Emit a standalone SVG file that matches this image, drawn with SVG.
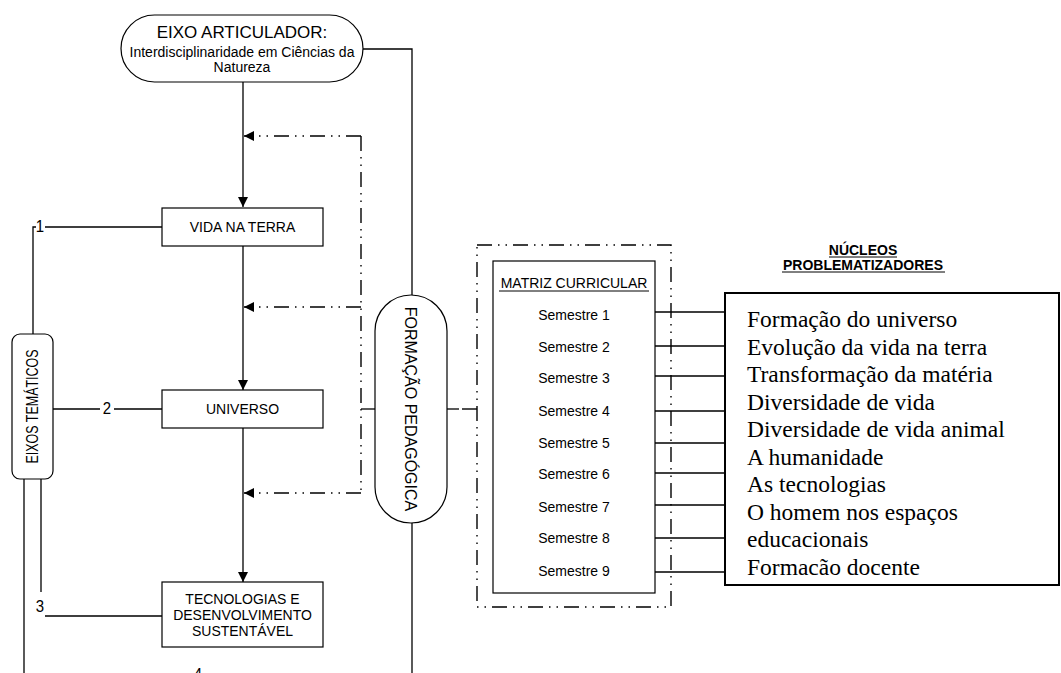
<svg xmlns="http://www.w3.org/2000/svg" width="1061" height="673" viewBox="0 0 1061 673">
<style>
.ln{fill:none;stroke:#000;stroke-width:1.3}
.dd{fill:none;stroke:#000;stroke-width:1.4;stroke-dasharray:15 6 1.5 6 1.5 6}
.box{fill:#fff;stroke:#000;stroke-width:1.2}
.t{font-family:"Liberation Sans",Arial,sans-serif;font-size:14px;fill:#000;text-anchor:middle}
.tm{font-family:"Liberation Serif","Times New Roman",serif;font-size:23.5px;fill:#000}
</style>
<defs>
<marker id="ah" viewBox="0 0 10 10" refX="10" refY="5" markerWidth="10" markerHeight="10" markerUnits="userSpaceOnUse" orient="auto">
<path d="M0,0 L10,5 L0,10 z" fill="#000"/>
</marker>
</defs>
<rect width="1061" height="673" fill="#fff"/>
<g id="connectors">
<path class="ln" d="M363,49 H412 V295"/>
<path class="ln" d="M412,523 V673"/>
<path class="ln" d="M243,82 V207" marker-end="url(#ah)"/>
<path class="ln" d="M243,246 V390" marker-end="url(#ah)"/>
<path class="ln" d="M243,428 V582" marker-end="url(#ah)"/>
<path class="dd" d="M361,136 H244" marker-end="url(#ah)"/>
<path class="dd" d="M361,307 H244" marker-end="url(#ah)"/>
<path class="dd" d="M361,493 H244" marker-end="url(#ah)"/>
<path class="dd" d="M361,136 V493"/>
<path class="ln" d="M361,409 H375"/>
<path class="ln" d="M447,409 H459"/>
<path class="dd" d="M477,409 H462"/>
<path class="ln" d="M162,227 H45 M36,227 H33 V334"/>
<path class="ln" d="M53,409 H100 M114,409 H162"/>
<path class="ln" d="M41,479 V592 M45,616 H162"/>
<path class="ln" d="M24,479 V673"/>
<path class="ln" d="M655,312 H725 M655,346 H725 M655,376 H725 M655,411 H725 M655,443 H725 M655,473 H725 M655,505 H725 M655,538 H725 M655,572 H725"/>
<text class="t" transform="translate(40,232) scale(1,1.1)" style="font-size:15px">1</text>
<text class="t" transform="translate(107,414) scale(1,1.1)" style="font-size:15px">2</text>
<text class="t" transform="translate(40,612) scale(1,1.1)" style="font-size:15px">3</text>
<text class="t" transform="translate(198,680) scale(1,1.1)" style="font-size:15px">4</text>
</g>
<g id="eixo-articulador">
<rect class="box" x="121" y="15" width="242" height="67" rx="33.5"/>
<text class="t" x="242" y="38" style="font-size:17px">EIXO ARTICULADOR:</text>
<text class="t" x="242" y="56.5">Interdisciplinaridade em Ciências da</text>
<text class="t" x="242" y="72">Natureza</text>
</g>
<g id="vida-na-terra">
<rect class="box" x="162" y="208" width="161" height="38"/>
<text class="t" transform="translate(242.5,232) scale(1,1.08)">VIDA NA TERRA</text>
</g>
<g id="universo">
<rect class="box" x="162" y="390" width="161" height="38"/>
<text class="t" transform="translate(242.5,414) scale(1,1.08)">UNIVERSO</text>
</g>
<g id="tecnologias">
<rect class="box" x="162" y="582" width="161" height="65"/>
<text class="t" transform="translate(242.5,604) scale(1,1.08)">TECNOLOGIAS E</text>
<text class="t" transform="translate(242.5,620) scale(1,1.08)">DESENVOLVIMENTO</text>
<text class="t" transform="translate(242.5,636) scale(1,1.08)">SUSTENTÁVEL</text>
</g>
<g id="eixos-tematicos">
<rect class="box" x="12" y="334" width="41" height="145" rx="8"/>
<text class="t" transform="translate(37.5,406.5) rotate(-90) scale(1,1.25)" style="font-size:12.5px">EIXOS TEMÁTICOS</text>
</g>
<g id="formacao-pedagogica">
<rect class="box" x="375" y="295" width="72" height="228" rx="36"/>
<text class="t" transform="translate(405,409) rotate(90)" style="font-size:16px">FORMAÇÃO PEDAGÓGICA</text>
</g>
<g id="matriz-curricular">
<rect class="dd" x="477" y="245" width="194" height="362"/>
<rect class="box" x="493" y="261" width="162" height="332"/>
<text class="t" transform="translate(574,288) scale(1,1.08)">MATRIZ CURRICULAR</text>
<line x1="499" y1="291" x2="649" y2="291" stroke="#000" stroke-width="1"/>
<text class="t" transform="translate(574,320) scale(1,1.1)">Semestre 1</text>
<text class="t" transform="translate(574,352) scale(1,1.1)">Semestre 2</text>
<text class="t" transform="translate(574,383) scale(1,1.1)">Semestre 3</text>
<text class="t" transform="translate(574,416) scale(1,1.1)">Semestre 4</text>
<text class="t" transform="translate(574,448) scale(1,1.1)">Semestre 5</text>
<text class="t" transform="translate(574,479) scale(1,1.1)">Semestre 6</text>
<text class="t" transform="translate(574,512) scale(1,1.1)">Semestre 7</text>
<text class="t" transform="translate(574,543) scale(1,1.1)">Semestre 8</text>
<text class="t" transform="translate(574,576) scale(1,1.1)">Semestre 9</text>
</g>
<g id="nucleos-problematizadores">
<text class="t" x="863" y="255" style="font-size:14px;font-weight:bold">NÚCLEOS</text>
<line x1="829" y1="257" x2="897" y2="257" stroke="#000" stroke-width="1"/>
<text class="t" x="863" y="270" style="font-size:14px;font-weight:bold">PROBLEMATIZADORES</text>
<line x1="782" y1="272" x2="945" y2="272" stroke="#000" stroke-width="1"/>
<rect x="725" y="293" width="334" height="292" fill="#fff" stroke="#000" stroke-width="2"/>
<text class="tm" x="747" y="327">Formação do universo</text>
<text class="tm" x="747" y="354.5">Evolução da vida na terra</text>
<text class="tm" x="747" y="382">Transformação da matéria</text>
<text class="tm" x="747" y="409.5">Diversidade de vida</text>
<text class="tm" x="747" y="437">Diversidade de vida animal</text>
<text class="tm" x="747" y="464.5">A humanidade</text>
<text class="tm" x="747" y="492">As tecnologias</text>
<text class="tm" x="747" y="519.5">O homem nos espaços</text>
<text class="tm" x="747" y="547">educacionais</text>
<text class="tm" x="747" y="574.5">Formacão docente</text>
</g>
</svg>
